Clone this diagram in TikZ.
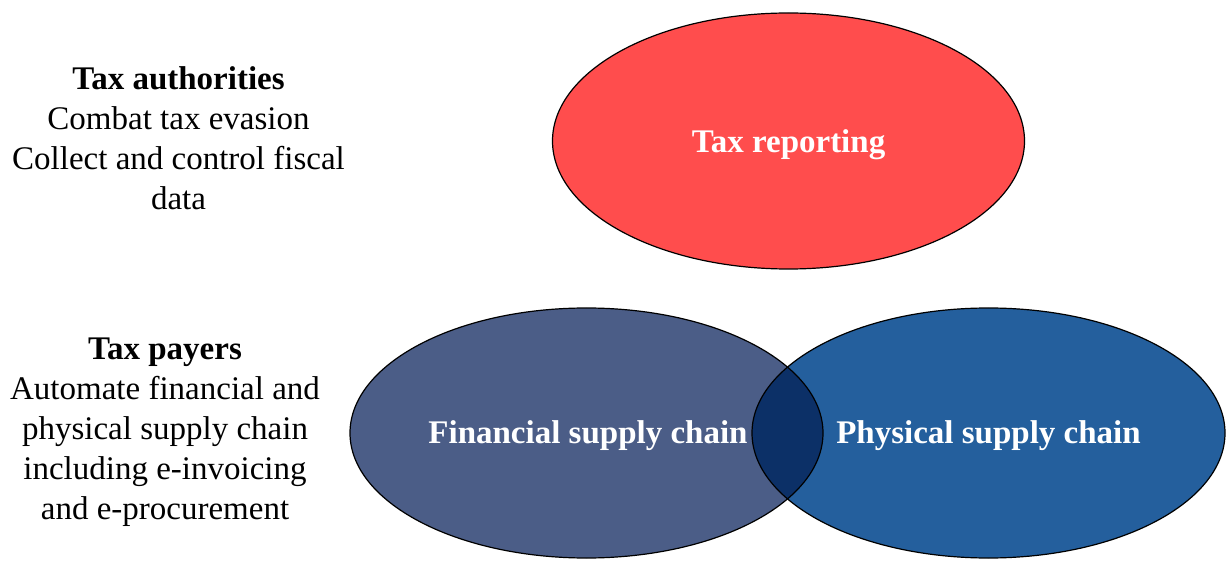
\documentclass[tikz,border=0pt]{standalone}
\usepackage{fontspec}
\setmainfont{Liberation Serif}
\definecolor{redfill}{HTML}{FF4D4D}
\definecolor{finfill}{HTML}{4B5D87}
\definecolor{phyfill}{HTML}{245F9D}
\definecolor{ovlfill}{HTML}{0C3067}
\begin{document}
\begin{tikzpicture}[x=1pt,y=-1pt,
  outl/.style={draw=black,line width=1.2pt},
  ltxt/.style={align=center,font=\fontsize{33}{40}\selectfont,inner sep=0pt},
  etxt/.style={text=white,font=\fontsize{33}{40}\selectfont\bfseries,inner sep=0pt}]
\useasboundingbox (0,0) rectangle (1226,561);
% top ellipse
\fill[redfill] (788.5,141) ellipse (236 and 128);
\draw[outl] (788.5,141) ellipse (236 and 128);
\node[etxt] (tr) at (788.5,145) {Tax reporting};
% bottom ellipses
\fill[finfill] (586.5,433) ellipse (236.5 and 125);
\fill[phyfill] (988.5,433) ellipse (236.5 and 125);
\begin{scope}
  \clip (586.5,433) ellipse (236.5 and 125);
  \fill[ovlfill] (988.5,433) ellipse (236.5 and 125);
\end{scope}
\draw[outl] (586.5,433) ellipse (236.5 and 125);
\draw[outl] (988.5,433) ellipse (236.5 and 125);
\node[etxt] (fsc) at (588,436) {Financial supply chain};
\node[etxt] (psc) at (988.5,436) {Physical supply chain};
% left texts
\node[ltxt] (auth) at (178.5,138) {\textbf{Tax authorities}\\Combat tax evasion\\Collect and control fiscal\\data};
\node[ltxt] (pay) at (165,432) {\textbf{Tax payers}\\Automate financial and\\physical supply chain\\including e-invoicing\\and e-procurement};
\end{tikzpicture}
\end{document}
